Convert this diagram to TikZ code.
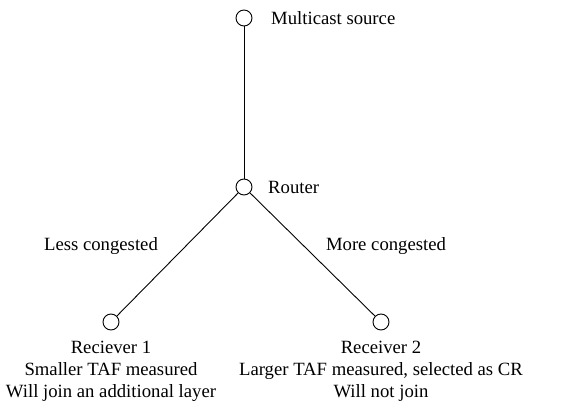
\documentclass[tikz,border=0pt]{standalone}
\usepackage{fontspec}
\setmainfont{Liberation Serif}
\begin{document}
\begin{tikzpicture}[x=1pt,y=-1pt,
  vtx/.style={circle,draw,line width=0.9pt,minimum size=16pt,inner sep=0pt},
  lbl/.style={font=\fontsize{18.7}{22}\selectfont,inner sep=0pt},
  multi/.style={lbl,align=center,anchor=north},
  edge/.style={line width=0.9pt}]
\useasboundingbox (0,0) rectangle (584,415);
\node[vtx] (src) at (244,18) {};
\node[vtx] (rt) at (244,187) {};
\node[vtx] (r1) at (111,322) {};
\node[vtx] (r2) at (381,322) {};
\node[lbl,anchor=west] (srcl) at (271,18) {Multicast source};
\node[lbl,anchor=west] (rtl) at (268,187) {Router};
\node[lbl] (less) at (101,246) {Less congested};
\node[lbl] (more) at (386,246) {More congested};
\node[multi] (r1l) at (111,341) {Reciever 1\\Smaller TAF measured\\Will join an additional layer};
\node[multi] (r2l) at (381,341) {Receiver 2\\Larger TAF measured, selected as CR\\Will not join};
\draw[edge] (src) -- (rt);
\draw[edge] (rt) -- (r1);
\draw[edge] (rt) -- (r2);
\end{tikzpicture}
\end{document}
